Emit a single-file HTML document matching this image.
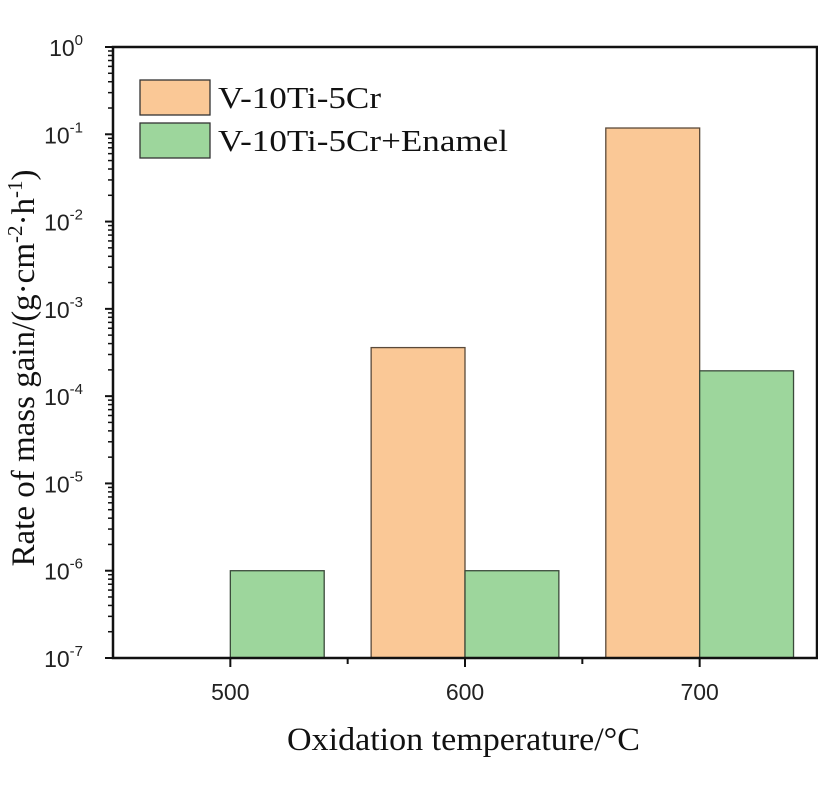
<!DOCTYPE html>
<html><head><meta charset="utf-8"><style>
body{margin:0;background:#fff}
svg{display:block}
.tk{font-family:"Liberation Sans",Arial,sans-serif;font-size:23px;fill:#222}
.tm{font-family:"Liberation Serif","Times New Roman",serif;font-size:33px;fill:#111}
.lg{font-family:"Liberation Serif","Times New Roman",serif;font-size:31px;fill:#111}
</style></head><body>
<svg id="chart" width="818" height="789">
<g id="plot"></g>
</svg>
<script>
const categories=[500,600,700];
const seriesAlloy=[null,3.6e-4,0.118];
const seriesEnamel=[1e-6,1e-6,1.95e-4];
const yTickExps=[0,-1,-2,-3,-4,-5,-6,-7];
const xTickLabels=["500","600","700"];
const L=113,R=817,T=47,B=658;
const X0=450,X1=750,YMIN=-7,YMAX=0;
const xs=v=>L+(v-X0)/(X1-X0)*(R-L);
const ys=v=>B-(Math.log10(v)-YMIN)/(YMAX-YMIN)*(B-T);
const NS="http://www.w3.org/2000/svg";
const g=document.getElementById('plot');
function mk(t,a,p){const e=document.createElementNS(NS,t);for(const k in a)e.setAttribute(k,a[k]);(p||g).appendChild(e);return e;}
const bw=40;
categories.forEach((c,i)=>{
 if(seriesAlloy[i]!=null){
  const y=ys(seriesAlloy[i]);
  const r=mk('rect',{x:xs(c-bw),y:y,width:xs(c)-xs(c-bw),height:B-y,fill:'#fac896',stroke:'#5a4a3a','stroke-width':1.3});
  
  
 }
 if(seriesEnamel[i]!=null){
  const y=ys(seriesEnamel[i]);
  const r=mk('rect',{x:xs(c),y:y,width:xs(c+bw)-xs(c),height:B-y,fill:'#9dd69c',stroke:'#3a4a3a','stroke-width':1.3});
  
  
 }
});
const f=mk('rect',{x:L,y:T,width:R-L,height:B-T,fill:'none',stroke:'#111','stroke-width':2.5});


yTickExps.forEach(e=>{
 const y=ys(Math.pow(10,e));
 mk('line',{x1:L-8,x2:L,y1:y,y2:y,stroke:'#111','stroke-width':2});
 const t=mk('text',{x:L-30,y:y+9,'text-anchor':'end',class:'tk'});
 
 
 t.textContent='10';
 const s=mk('tspan',{dy:-11,'font-size':15},t);s.textContent=String(e);
 if(e>YMIN){for(let m=2;m<10;m++){const yy=ys(m*Math.pow(10,e-1));mk('line',{x1:L-5,x2:L,y1:yy,y2:yy,stroke:'#111','stroke-width':1.5});}}
});
categories.forEach((c,i)=>{
 const x=xs(c);
 mk('line',{x1:x,x2:x,y1:B,y2:B+9,stroke:'#111','stroke-width':2});
 const t=mk('text',{x:x,y:B+42,'text-anchor':'middle',class:'tk'});
 
 
 t.textContent=xTickLabels[i];
});
[550,650].forEach(c=>{const x=xs(c);mk('line',{x1:x,x2:x,y1:B,y2:B+6,stroke:'#111','stroke-width':2});});
const xt=mk('text',{x:287,y:750,class:'tm',textLength:353,lengthAdjust:'spacingAndGlyphs'});


xt.textContent='Oxidation temperature/°C';
const yt=mk('text',{x:0,y:0,'text-anchor':'middle',class:'tm',transform:'translate(34,368) rotate(-90)','font-size':35});


yt.innerHTML='Rate of mass gain/(g·cm<tspan dy="-12" font-size="21">-2</tspan><tspan dy="12">·h</tspan><tspan dy="-12" font-size="21">-1</tspan><tspan dy="12">)</tspan>';
[['#fac896','V-10Ti-5Cr','legend-alloy',163],['#9dd69c','V-10Ti-5Cr+Enamel','legend-enamel',290]].forEach((d,i)=>{
 const y=80+i*43;
 const lg=mk('g',{});
 
 
 mk('rect',{x:140,y:y,width:70,height:35,fill:d[0],stroke:'#333','stroke-width':1.3},lg);
 const t=mk('text',{x:218,y:y+28,class:'lg',textLength:d[3],lengthAdjust:'spacingAndGlyphs'},lg);t.textContent=d[1];
});
</script>
</body></html>
